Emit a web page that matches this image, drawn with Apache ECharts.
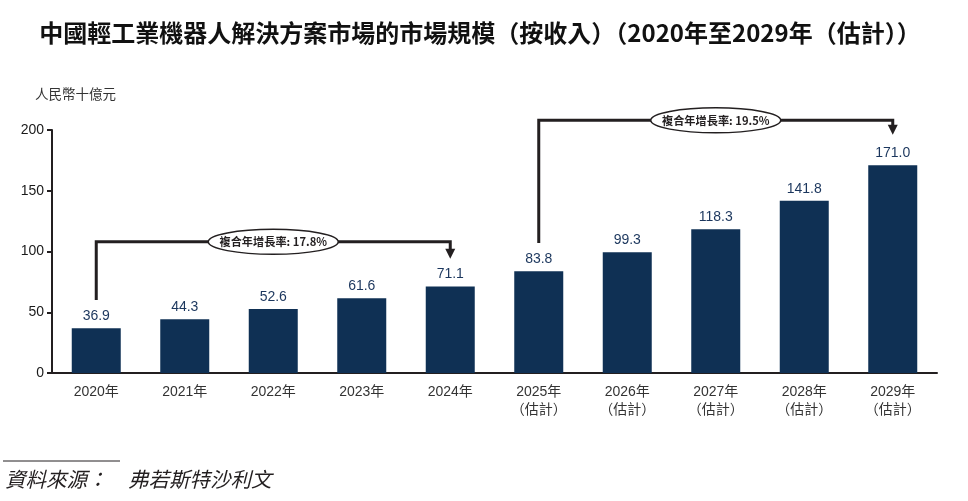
<!DOCTYPE html>
<html><head><meta charset="utf-8">
<script src="https://cdn.jsdelivr.net/npm/echarts@6/dist/echarts.min.js"></script>
<style>html,body{margin:0;padding:0;background:#fff}#c{width:968px;height:501px}</style>
</head><body><div id="c"></div>
<script>
const titleText = '中國輕工業機器人解決方案市場的市場規模（按收入）（2020年至2029年（估計））';
const unitText = '人民幣十億元';
const sourceText = '資料來源：　弗若斯特沙利文';
const categories = ['2020年','2021年','2022年','2023年','2024年','2025年\n（估計）','2026年\n（估計）','2027年\n（估計）','2028年\n（估計）','2029年\n（估計）'];
const values = [36.9,44.3,52.6,61.6,71.1,83.8,99.3,118.3,141.8,171.0];
const yMin = 0, yMax = 200, yInterval = 50;
const cagrLabels = ['複合年增長率: 17.8%','複合年增長率: 19.5%'];
const cagrFrom = [0, 5];
const cagrTo = [4, 9];
const cagrStartVal = [60, 107];
const cagrLevelVal = [108, 208];
const cagrTipVal = [94, 196];

const ink = '#231f20';
const chart = echarts.init(document.getElementById('c'));
const cagrData = cagrLabels.map((l,i)=>[cagrFrom[i], cagrTo[i], cagrStartVal[i], cagrLevelVal[i], cagrTipVal[i]]);

chart.setOption({
  animation:false,
  backgroundColor:'#fff',
  title:{text:titleText,left:475,top:16,textAlign:'center',
    textStyle:{fontFamily:'Noto Sans CJK TC',fontWeight:'bold',fontSize:24,color:'#111'}},
  grid:{left:52,right:31,top:130,bottom:128},
  xAxis:{type:'category',data:categories,
    axisLine:{lineStyle:{color:ink,width:2}},axisTick:{show:false},
    axisLabel:{margin:10,color:'#333',fontSize:14,lineHeight:18,fontFamily:'Liberation Sans, Noto Sans CJK TC'}},
  yAxis:{type:'value',min:yMin,max:yMax,interval:yInterval,
    axisLine:{show:true,lineStyle:{color:ink,width:2}},
    axisTick:{show:true,length:5,lineStyle:{color:ink,width:2}},
    splitLine:{show:false},
    axisLabel:{margin:8,color:'#1a1a1a',fontSize:14,fontFamily:'Liberation Sans'}},
  graphic:[
    {type:'text',left:35,top:87,style:{text:unitText,fontSize:13.5,fill:'#333',fontFamily:'Noto Sans CJK TC'}},
    {type:'line',shape:{x1:3,y1:461,x2:120,y2:461},style:{stroke:ink,lineWidth:1}},
    {type:'text',left:5,top:469,style:{text:sourceText,fontSize:20.5,fontStyle:'italic',fill:ink,fontFamily:'Noto Sans CJK TC'}}
  ],
  series:[
    {type:'bar',data:values,barWidth:49,itemStyle:{color:'#0f3054'},
      label:{show:true,position:'top',distance:5,color:'#1b365d',fontSize:14,fontFamily:'Liberation Sans',
        formatter:p=>p.value.toFixed(1)}},
    {type:'custom',clip:false,data:cagrData,z:5,
      encode:{x:0,y:3},
      renderItem:function(params,api){
        const i=params.dataIndex;
        const a=api.coord([api.value(0),api.value(2)]);
        const b=api.coord([api.value(0),api.value(3)]);
        const c=api.coord([api.value(1),api.value(3)]);
        const d=api.coord([api.value(1),api.value(4)]);
        const cx=(b[0]+c[0])/2, cy=b[1];
        return {type:'group',children:[
          {type:'polyline',shape:{points:[a,b,c,[c[0],d[1]-9]]},style:{stroke:ink,lineWidth:3,fill:null}},
          {type:'polygon',shape:{points:[[c[0]-5,d[1]-10],[c[0]+5,d[1]-10],[c[0],d[1]]]},style:{fill:ink}},
          {type:'ellipse',shape:{cx:cx,cy:cy,rx:65,ry:12.5},style:{fill:'#fff',stroke:ink,lineWidth:1.5}},
          {type:'text',x:cx,y:cy,style:{text:cagrLabels[i],align:'center',verticalAlign:'middle',fontSize:11.2,fontWeight:'bold',fill:ink,fontFamily:'Noto Sans CJK TC'}}
        ]};
      }}
  ]
});
</script></body></html>
